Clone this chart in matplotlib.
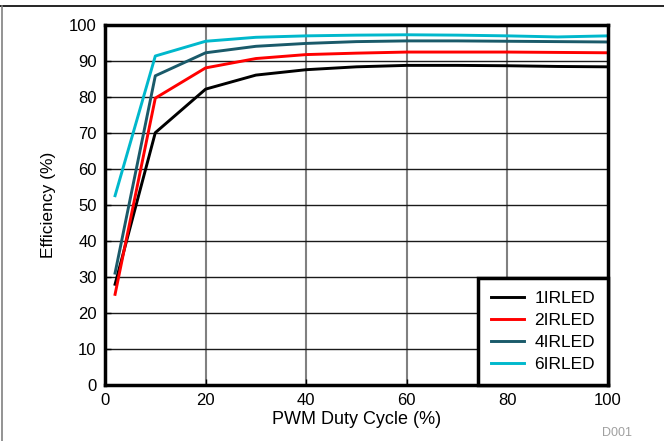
import matplotlib
matplotlib.use("Agg")
import matplotlib.pyplot as plt
from matplotlib.lines import Line2D

plt.rcParams['font.family'] = ['Liberation Sans', 'DejaVu Sans']

duty = [2, 10, 20, 30, 40, 50, 60, 70, 80, 90, 100]
eff_1 = [27.9, 70.0, 82.1, 86.0, 87.5, 88.3, 88.7, 88.7, 88.6, 88.4, 88.3]
eff_2 = [25.1, 79.6, 88.0, 90.6, 91.7, 92.1, 92.4, 92.4, 92.4, 92.3, 92.2]
eff_4 = [31.0, 85.8, 92.2, 94.0, 94.8, 95.3, 95.5, 95.5, 95.4, 95.3, 95.2]
eff_6 = [52.5, 91.3, 95.4, 96.5, 96.9, 97.1, 97.2, 97.1, 96.9, 96.6, 96.9]
labels = ['1IRLED', '2IRLED', '4IRLED', '6IRLED']
colors = ['#000000', '#ff0000', '#1a5a6a', '#00b8cc']

fig = plt.figure(figsize=(6.64, 4.41), dpi=100)
ax = fig.add_axes([105/664, 1-384.7/441, 503/664, 360/441])

for y, lab, c in zip([eff_1, eff_2, eff_4, eff_6], labels, colors):
    ax.plot(duty, y, color=c, lw=2.1, label=lab, zorder=3)

ax.set_xlim(0, 100)
ax.set_ylim(0, 100)
ax.set_xticks(range(0, 101, 20))
ax.set_yticks(range(0, 101, 10))
ax.tick_params(direction='in', length=4, width=1, labelsize=12, pad=6)
for x in range(20, 100, 20):
    ax.axvline(x, color='#808080', lw=1.5, zorder=1)
for yv in range(10, 100, 10):
    ax.axhline(yv, color='#1a1a1a', lw=1.0, zorder=1)
for s in ax.spines.values():
    s.set_linewidth(2.5)
    s.set_zorder(5)

ax.set_xlabel('PWM Duty Cycle (%)', fontsize=13, labelpad=2)
ax.set_ylabel('Efficiency (%)', fontsize=12.5, labelpad=9)

leg = ax.legend(loc='lower right', fontsize=12.5, frameon=True, fancybox=False,
                framealpha=1, borderaxespad=0, handlelength=1.9, handletextpad=0.6,
                labelspacing=0.38, borderpad=0.75)
leg.get_frame().set_edgecolor('black')
leg.get_frame().set_linewidth(2.5)
leg.set_zorder(6)

fig.add_artist(Line2D([0, 1], [1-6/441, 1-6/441], color='black', lw=1.2, transform=fig.transFigure))
fig.add_artist(Line2D([1.5/664, 1.5/664], [0, 1-6/441], color='#808080', lw=1.2, transform=fig.transFigure))
fig.text(617/664, 1-436/441, 'D001', color='#a0a0a0', fontsize=9, ha='center', va='baseline')

fig.savefig('out.png', dpi=100)
